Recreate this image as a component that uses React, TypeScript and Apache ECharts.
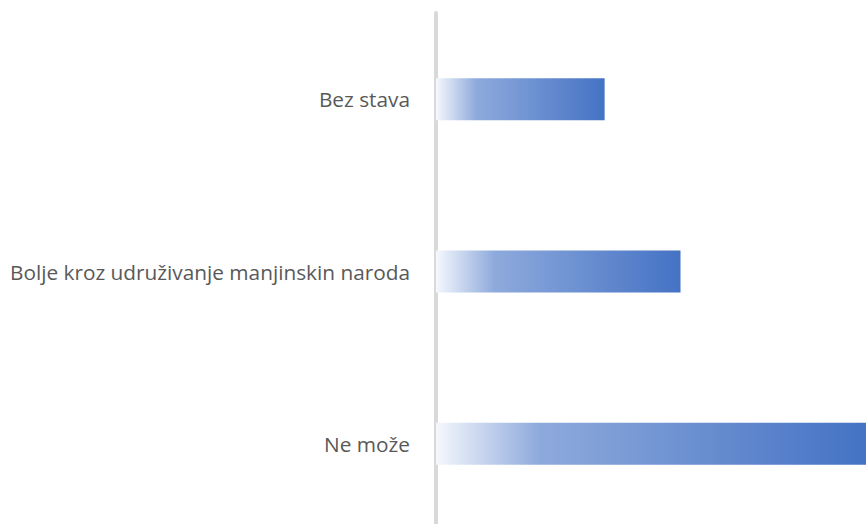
import React, { useEffect, useRef } from "react";
import * as echarts from "echarts";

const categories = ["Ne može", "Bolje kroz udruživanje manjinskin naroda", "Bez stava"];
const values = [51, 29, 20];

export default function App() {
  const ref = useRef<HTMLDivElement>(null);
  useEffect(() => {
    if (!ref.current) return;
    const chart = echarts.init(ref.current, undefined, { renderer: "svg" });
    const grad = new echarts.graphic.LinearGradient(0, 0, 1, 0, [
      { offset: 0, color: "#f5f8fd" },
      { offset: 0.24, color: "#8eaadc" },
      { offset: 1, color: "#4472c4" },
    ]);
    chart.setOption({
      animation: false,
      grid: { left: 436, right: 0, top: 13, bottom: 0 },
      xAxis: {
        type: "value",
        min: 0,
        max: 51,
        show: false,
      },
      yAxis: {
        type: "category",
        data: categories,
        offset: 3,
        axisLine: { show: true, lineStyle: { color: "#d9d9d9", width: 4 } },
        axisTick: { show: false },
        axisLabel: {
          margin: 23,
          fontSize: 20.8,
          color: "#595959",
          fontFamily: "Open Sans",
        },
      },
      series: [
        {
          type: "bar",
          data: values,
          barWidth: 42,
          itemStyle: { color: grad },
        },
      ],
    });
    return () => chart.dispose();
  }, []);
  return (
    <div style={{ width: 866, height: 524, position: "absolute", left: 0, top: 0, overflow: "hidden" }}>
      <div ref={ref} style={{ width: 866, height: 530 }} />
    </div>
  );
}
